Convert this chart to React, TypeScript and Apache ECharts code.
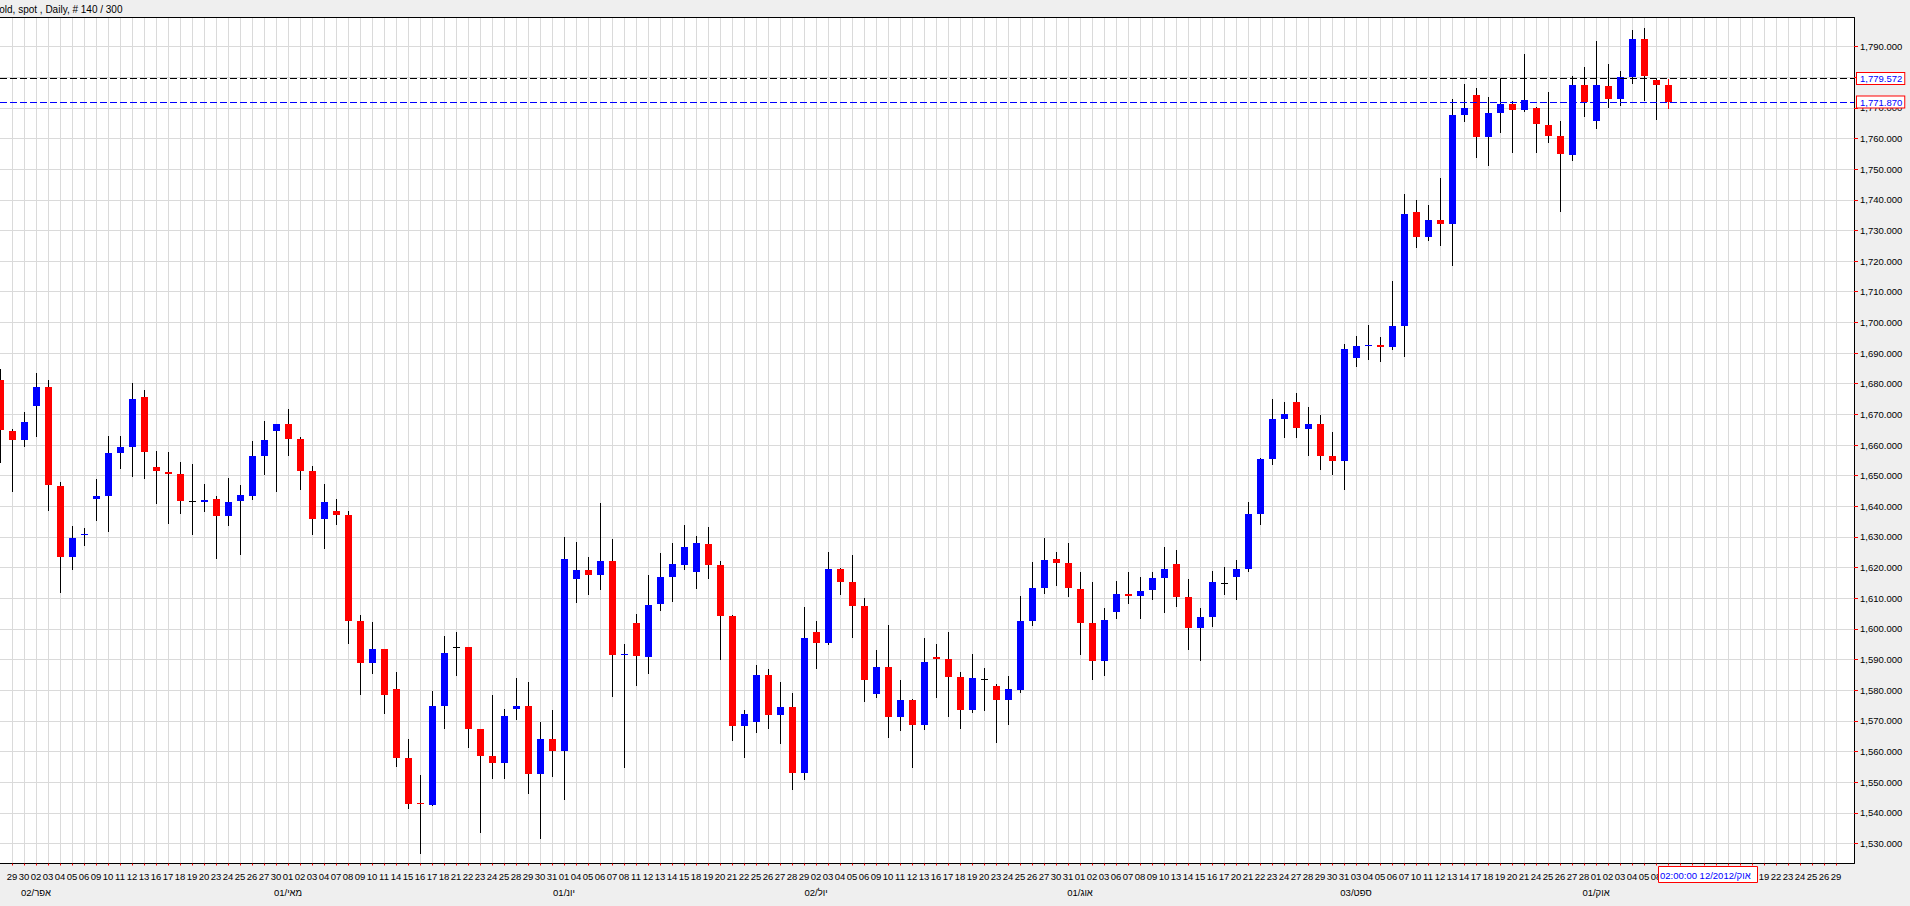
import { useEffect, useRef } from 'react'
import * as echarts from 'echarts'

// one entry per bar, first bar is 28 March 2012 (half cut off by the left edge)
const opens = [
  1681.3, 1664.7, 1661.7, 1672.8, 1679.0, 1646.7, 1623.6, 1630.8, 1642.5, 1643.5,
  1657.5, 1659.5, 1675.8, 1652.9, 1651.3, 1650.7, 1641.7, 1641.5, 1642.5, 1637.0,
  1641.8, 1643.5, 1656.5, 1664.7, 1667.0, 1662.0, 1651.6, 1635.7, 1638.6, 1637.3,
  1602.7, 1589.0, 1593.6, 1580.5, 1558.0, 1543.1, 1542.7, 1574.7, 1594.1, 1594.2,
  1567.5, 1558.4, 1556.4, 1574.0, 1574.7, 1552.8, 1564.2, 1560.3, 1616.4, 1619.3,
  1617.7, 1622.3, 1591.8, 1602.0, 1590.8, 1608.0, 1616.8, 1620.8, 1618.5, 1627.6,
  1620.8, 1604.1, 1568.3, 1569.6, 1584.9, 1571.8, 1574.5, 1552.9, 1598.9, 1595.3,
  1619.5, 1615.2, 1607.4, 1578.7, 1587.5, 1571.2, 1576.7, 1568.6, 1590.8, 1590.1,
  1584.2, 1573.5, 1583.8, 1581.3, 1576.7, 1580.0, 1602.5, 1613.3, 1622.7, 1621.4,
  1612.9, 1601.8, 1589.5, 1605.4, 1611.3, 1610.7, 1612.6, 1616.5, 1621.1, 1610.3,
  1600.2, 1603.8, 1615.1, 1616.8, 1619.5, 1637.4, 1655.5, 1668.6, 1674.1, 1665.3,
  1667.0, 1656.5, 1654.9, 1688.5, 1692.5, 1692.7, 1692.1, 1698.9, 1736.0, 1727.8,
  1733.4, 1732.1, 1767.6, 1774.1, 1760.4, 1768.3, 1771.2, 1769.2, 1769.9, 1764.3,
  1760.8, 1754.6, 1777.4, 1765.7, 1777.1, 1772.8, 1780.0, 1792.4, 1779.0, 1777.4,
]
const closes = [
  1665.0, 1661.7, 1667.6, 1679.0, 1647.0, 1623.6, 1629.8, 1631.1, 1643.5, 1657.5,
  1659.5, 1675.1, 1657.8, 1651.6, 1650.7, 1641.8, 1641.7, 1642.2, 1637.0, 1641.5,
  1643.8, 1656.5, 1661.7, 1667.0, 1662.0, 1651.6, 1635.7, 1641.5, 1637.3, 1602.7,
  1589.0, 1593.6, 1578.6, 1558.0, 1543.0, 1542.9, 1574.7, 1592.3, 1594.1, 1567.2,
  1558.4, 1556.4, 1571.7, 1575.0, 1552.8, 1564.2, 1560.3, 1622.9, 1619.3, 1617.7,
  1622.3, 1591.6, 1591.9, 1591.3, 1607.7, 1616.8, 1621.1, 1626.6, 1627.9, 1620.8,
  1604.1, 1568.3, 1572.2, 1584.9, 1571.8, 1574.5, 1552.9, 1597.0, 1595.3, 1619.5,
  1615.2, 1607.4, 1583.3, 1587.5, 1571.2, 1576.7, 1568.6, 1589.1, 1590.1, 1584.2,
  1573.5, 1583.9, 1583.8, 1576.7, 1580.3, 1602.5, 1613.3, 1622.4, 1621.4, 1613.3,
  1601.8, 1589.5, 1602.8, 1611.3, 1610.7, 1612.3, 1616.5, 1619.5, 1610.3, 1600.2,
  1603.8, 1615.2, 1615.1, 1619.5, 1637.4, 1655.3, 1668.6, 1670.2, 1665.7, 1667.0,
  1656.5, 1654.9, 1691.4, 1692.4, 1692.7, 1692.1, 1698.9, 1735.3, 1727.8, 1733.4,
  1732.1, 1767.6, 1769.9, 1760.4, 1768.3, 1771.2, 1769.2, 1772.5, 1764.7, 1760.8,
  1754.9, 1777.4, 1771.8, 1777.4, 1772.8, 1780.0, 1792.4, 1780.3, 1777.4, 1771.8,
]
const highs = [
  1684.9, 1665.3, 1670.9, 1683.6, 1681.3, 1648.0, 1633.7, 1633.0, 1649.0, 1663.0,
  1663.0, 1680.3, 1678.0, 1658.2, 1657.8, 1654.6, 1653.9, 1647.4, 1643.5, 1649.3,
  1647.0, 1661.4, 1667.9, 1667.0, 1671.8, 1662.7, 1653.3, 1647.4, 1642.5, 1638.6,
  1604.7, 1602.4, 1593.6, 1585.8, 1564.2, 1552.5, 1579.9, 1597.8, 1599.1, 1594.2,
  1567.5, 1578.3, 1574.0, 1584.1, 1582.8, 1569.5, 1573.7, 1630.1, 1628.2, 1623.6,
  1641.2, 1629.5, 1595.2, 1605.0, 1617.5, 1624.7, 1627.9, 1633.8, 1630.2, 1633.2,
  1622.1, 1604.5, 1573.5, 1588.2, 1586.8, 1582.6, 1579.0, 1607.1, 1602.5, 1625.0,
  1619.8, 1624.0, 1610.0, 1593.0, 1601.2, 1583.3, 1577.0, 1597.0, 1595.0, 1598.9,
  1585.9, 1591.7, 1587.2, 1582.0, 1584.6, 1610.7, 1621.7, 1629.6, 1625.0, 1627.9,
  1618.5, 1615.2, 1606.7, 1615.5, 1618.5, 1616.8, 1618.5, 1626.6, 1625.7, 1616.2,
  1606.7, 1618.8, 1620.1, 1622.4, 1641.3, 1655.7, 1675.1, 1674.1, 1677.0, 1672.5,
  1669.9, 1664.3, 1693.0, 1695.7, 1699.2, 1695.3, 1713.5, 1741.8, 1739.9, 1738.3,
  1747.0, 1772.8, 1777.7, 1776.4, 1773.5, 1779.7, 1772.2, 1787.5, 1770.2, 1775.1,
  1765.7, 1780.3, 1783.3, 1791.7, 1784.2, 1782.0, 1795.3, 1796.0, 1779.3, 1779.3,
]
const lows = [
  1654.2, 1644.8, 1659.5, 1662.7, 1638.6, 1611.8, 1619.3, 1627.2, 1635.3, 1631.7,
  1652.3, 1649.7, 1649.0, 1640.9, 1634.3, 1637.6, 1630.8, 1638.3, 1622.9, 1633.7,
  1624.2, 1642.2, 1650.3, 1644.8, 1656.5, 1645.4, 1630.8, 1626.2, 1633.9, 1595.2,
  1578.3, 1585.4, 1572.1, 1555.1, 1541.1, 1526.7, 1542.4, 1567.5, 1584.8, 1561.0,
  1533.3, 1551.2, 1551.2, 1570.4, 1546.3, 1531.6, 1551.8, 1544.3, 1608.3, 1611.0,
  1612.8, 1577.9, 1554.5, 1581.5, 1585.2, 1605.8, 1608.7, 1619.1, 1612.9, 1616.2,
  1589.8, 1563.4, 1557.8, 1566.0, 1567.3, 1562.4, 1547.4, 1550.7, 1586.8, 1594.7,
  1611.0, 1597.0, 1576.1, 1577.4, 1564.3, 1566.6, 1554.6, 1567.0, 1577.4, 1571.2,
  1567.3, 1572.5, 1573.2, 1562.7, 1568.6, 1579.0, 1600.9, 1611.3, 1613.9, 1610.3,
  1591.4, 1583.3, 1584.6, 1603.2, 1608.0, 1603.2, 1609.3, 1605.1, 1607.1, 1593.0,
  1589.5, 1600.5, 1611.0, 1609.3, 1618.5, 1633.8, 1653.6, 1662.4, 1662.4, 1656.5,
  1652.0, 1650.3, 1645.4, 1685.5, 1687.8, 1687.2, 1691.1, 1688.8, 1724.2, 1726.5,
  1724.9, 1718.4, 1765.3, 1753.6, 1751.0, 1761.7, 1755.2, 1768.6, 1755.2, 1758.5,
  1736.0, 1752.6, 1767.0, 1763.0, 1769.9, 1770.5, 1777.7, 1772.2, 1766.0, 1769.6,
]

const dayLabels = [
  '28', '29', '30',
  '02', '03', '04', '05', '06', '09', '10', '11', '12', '13', '16', '17', '18', '19', '20', '23', '24', '25', '26', '27', '30',
  '01', '02', '03', '04', '07', '08', '09', '10', '11', '14', '15', '16', '17', '18', '21', '22', '23', '24', '25', '28', '29', '30', '31',
  '01', '04', '05', '06', '07', '08', '11', '12', '13', '14', '15', '18', '19', '20', '21', '22', '25', '26', '27', '28', '29',
  '02', '03', '04', '05', '06', '09', '10', '11', '12', '13', '16', '17', '18', '19', '20', '23', '24', '25', '26', '27', '30', '31',
  '01', '02', '03', '06', '07', '08', '09', '10', '13', '14', '15', '16', '17', '20', '21', '22', '23', '24', '27', '28', '29', '30', '31',
  '03', '04', '05', '06', '07', '10', '11', '12', '13', '14', '17', '18', '19', '20', '21', '24', '25', '26', '27', '28',
  '01', '02', '03', '04', '05', '08', '09', '10', '11', '12', '15', '16', '17', '18', '19', '22', '23', '24', '25', '26', '29',
]
// month captions, keyed by the first trading day shown for that month
const monthLabels: Record<string, string> = {
  3: '02/אפר',
  24: '01/מאי',
  47: '01/יונ',
  68: '02/יול',
  90: '01/אוג',
  113: '03/ספט',
  133: '01/אוק',
}
const priceTicks = [
  1530, 1540, 1550, 1560, 1570, 1580, 1590, 1600, 1610, 1620, 1630, 1640, 1650, 1660,
  1670, 1680, 1690, 1700, 1710, 1720, 1730, 1740, 1750, 1760, 1770, 1780, 1790,
]
const currentPrice = 1771.87
const crosshairPrice = 1779.572
// day labels that sit under the crosshair's date box
const coveredDays = [139, 140, 141, 142, 143, 144, 145, 146]

const FONT = '"Liberation Sans", sans-serif'
const FONT_SIZE = 9.5
const fmtPrice = (v: number) =>
  v.toLocaleString('en-US', { minimumFractionDigits: 3, maximumFractionDigits: 3 })

function renderCandle(params: any, api: any) {
  const i = api.value(0)
  const open = api.value(1)
  const close = api.value(2)
  const color = close > open ? '#0000ff' : close < open ? '#ff0000' : '#000000'
  const [x, yOpen] = api.coord([i, open])
  const yClose = api.coord([i, close])[1]
  const yHigh = api.coord([i, api.value(3)])[1]
  const yLow = api.coord([i, api.value(4)])[1]
  const px = Math.round(x)
  const top = Math.round(Math.min(yOpen, yClose))
  const bottom = Math.round(Math.max(yOpen, yClose))
  return {
    type: 'group',
    children: [
      {
        type: 'line',
        shape: { x1: px + 0.5, y1: Math.round(yHigh), x2: px + 0.5, y2: Math.round(yLow) },
        // the newest bar is still open and has its wick in red
        style: { stroke: params.dataIndex === opens.length - 1 ? '#ff0000' : '#000000', lineWidth: 1 },
      },
      {
        type: 'rect',
        shape: { x: px - 3, y: top, width: 7, height: Math.max(1, bottom - top) },
        style: { fill: color },
      },
    ],
  }
}

function priceLine(value: number, color: string) {
  return {
    yAxis: value,
    lineStyle: { color, type: [7, 3], width: 1 },
    label: {
      show: true,
      position: 'end',
      distance: 3,
      formatter: fmtPrice(value),
      color: '#0000ff',
      fontFamily: FONT,
      fontSize: FONT_SIZE,
      backgroundColor: '#ffffff',
      borderColor: '#ff0000',
      borderWidth: 1,
      padding: [1, 2, 0, 3],
    },
  }
}

function App() {
  const chartRef = useRef<HTMLDivElement>(null)

  useEffect(() => {
    document.body.style.margin = '0'
    if (!chartRef.current) return
    const myChart = echarts.init(chartRef.current, undefined, { renderer: 'svg' })
    const tickIndexes = dayLabels.map((_, i) => i).slice(1)
    myChart.setOption({
      animation: false,
      backgroundColor: '#efefef',
      grid: {
        show: true,
        left: 0,
        top: 17.5,
        width: 1854,
        height: 846,
        backgroundColor: '#ffffff',
        borderWidth: 0,
      },
      xAxis: [
        {
          type: 'value',
          min: 0,
          max: 154.5,
          axisLine: { show: true, onZero: false, lineStyle: { color: '#000000', width: 1 } },
          axisTick: { show: true, length: 2, customValues: tickIndexes, lineStyle: { color: '#ff0000' } },
          axisLabel: {
            customValues: tickIndexes.filter((i) => !coveredDays.includes(i)),
            showMinLabel: true,
            showMaxLabel: true,
            margin: 4.5,
            color: '#000000',
            fontFamily: FONT,
            fontSize: FONT_SIZE,
            lineHeight: 16,
            verticalAlign: 'top',
            formatter: (v: number) =>
              monthLabels[v] ? `${dayLabels[v]}\n${monthLabels[v]}` : dayLabels[v],
          },
          splitLine: { show: true, lineStyle: { color: '#dadada', width: 1 } },
        },
        {
          type: 'value',
          position: 'top',
          min: 0,
          max: 154.5,
          axisLine: { show: true, onZero: false, lineStyle: { color: '#000000', width: 1 } },
          axisTick: { show: false },
          axisLabel: { show: false },
          splitLine: { show: false },
        },
      ],
      yAxis: {
        type: 'value',
        position: 'right',
        min: 1523.48,
        max: 1799.46,
        axisLine: { show: true, onZero: false, lineStyle: { color: '#000000', width: 1 } },
        axisTick: { show: true, length: 4, customValues: priceTicks, lineStyle: { color: '#ff0000' } },
        axisLabel: {
          customValues: priceTicks,
          margin: 6,
          padding: [2, 0, 0, 0],
          color: '#000000',
          fontFamily: FONT,
          fontSize: FONT_SIZE,
          formatter: (v: number) => fmtPrice(v),
        },
        splitLine: { show: true, lineStyle: { color: '#dadada', width: 1 } },
      },
      series: [
        {
          type: 'custom',
          renderItem: renderCandle,
          xAxisIndex: 0,
          yAxisIndex: 0,
          clip: true,
          silent: true,
          encode: { x: 0, y: [1, 2, 3, 4] },
          data: opens.map((o, i) => [i, o, closes[i], highs[i], lows[i]]),
          markLine: {
            silent: true,
            symbol: 'none',
            animation: false,
            data: [priceLine(crosshairPrice, '#000000'), priceLine(currentPrice, '#0000ff')],
          },
        },
      ],
      graphic: [
        {
          type: 'text',
          z: 50,
          style: {
            text: 'Gold, spot , Daily, # 140 / 300',
            x: 122.5,
            y: 9.5,
            textAlign: 'right',
            textVerticalAlign: 'middle',
            fill: '#000000',
            font: `10px ${FONT}`,
          },
        },
        {
          type: 'rect',
          z: 50,
          shape: { x: 1658.5, y: 866.5, width: 99, height: 16 },
          style: { fill: '#ffffff', stroke: '#ff0000', lineWidth: 1 },
        },
        {
          type: 'text',
          z: 51,
          style: {
            text: '02:00:00 12/2012/אוק',
            x: 1660,
            y: 875,
            textVerticalAlign: 'middle',
            fill: '#0000ff',
            font: `${FONT_SIZE}px ${FONT}`,
          },
        },
      ],
    })

    return () => {
      myChart.dispose()
    }
  }, [])

  return <div ref={chartRef} style={{ width: '1910px', height: '906px' }}></div>
}

export default App
